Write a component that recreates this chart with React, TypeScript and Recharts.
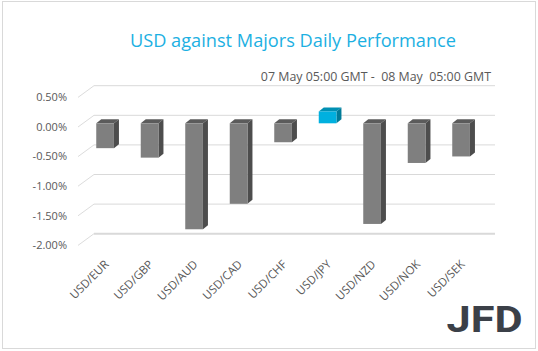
import React from 'react';
import { BarChart, Bar, XAxis, YAxis, CartesianGrid } from 'recharts';

// USD vs majors, % change 07 May 05:00 GMT - 08 May 05:00 GMT
const pairs = ['USD/EUR', 'USD/GBP', 'USD/AUD', 'USD/CAD', 'USD/CHF', 'USD/JPY', 'USD/NZD', 'USD/NOK', 'USD/SEK'];
const changes = [-0.42, -0.58, -1.79, -1.36, -0.32, 0.2, -1.7, -0.67, -0.56];
const yTicks = [0.5, 0, -0.5, -1, -1.5, -2];

const data = pairs.map((pair, i) => ({ pair, change: changes[i] }));

const W = 538;
const H = 351;
const PLOT_TOP = 93.7;
const PLOT_BOTTOM = 241.7;
const PLOT_LEFT = 83.25;
const PLOT_RIGHT = 483.75;
const AXIS_SIZE = 10;

// fake 3d depth
const DX = 5;
const DY = -4;
const FONT = '"Open Sans", sans-serif';

function Bar3D(props: any) {
  const { x, y, width, height, payload } = props;
  const top = Math.min(y, y + height);
  const h = Math.abs(height);
  const up = payload.change >= 0;
  const front = up ? '#00b0df' : '#7f7f7f';
  const roof = up ? '#0090b3' : '#5b5b5b';
  const side = up ? '#007b98' : '#4d4d4d';
  return (
    <g>
      <polygon
        points={`${x},${top} ${x + DX},${top + DY} ${x + width + DX},${top + DY} ${x + width},${top}`}
        fill={roof}
      />
      <polygon
        points={`${x + width},${top} ${x + width + DX},${top + DY} ${x + width + DX},${top + h + DY} ${x + width},${top + h}`}
        fill={side}
      />
      <rect x={x} y={top} width={width} height={h} fill={front} />
    </g>
  );
}

function gridLine(props: any) {
  const { y1 } = props;
  const floor = y1 > PLOT_BOTTOM - 1;
  return (
    <g key={`grid-${y1}`}>
      <line x1={78} y1={y1 + 3.7} x2={94} y2={y1 - 8} stroke="#dcdcdc" strokeWidth={1} />
      <line x1={94} y1={y1 - 8} x2={495} y2={y1 - 8} stroke="#d9d9d9" strokeWidth={floor ? 2 : 1} />
    </g>
  );
}

function YTick(props: any) {
  const { y, payload } = props;
  return (
    <text x={67} y={y + 3.7} dy="0.35em" textAnchor="end" fontFamily={FONT} fontSize={11} fill="#595959">
      {payload.value.toFixed(2)}%
    </text>
  );
}

function XTick(props: any) {
  const { x, payload } = props;
  const ax = x + 4;
  const ay = 265;
  return (
    <text
      x={ax}
      y={ay}
      transform={`rotate(-45 ${ax} ${ay})`}
      textAnchor="end"
      fontFamily={FONT}
      fontSize={11.5}
      fill="#595959"
    >
      {payload.value}
    </text>
  );
}

export default function App() {
  return (
    <div style={{ position: 'absolute', left: 0, top: 0, width: W, height: H, background: '#fff' }}>
      <svg width={W} height={H} style={{ position: 'absolute', left: 0, top: 0 }}>
        <rect x={2.5} y={1.5} width={533} height={347} fill="#fff" stroke="#d9d9d9" />
        <text x={293} y={46.5} textAnchor="middle" fontFamily={FONT} fontSize={18.2} fill="#1cb0e2">
          USD against Majors Daily Performance
        </text>
        <text
          x={491}
          y={80.5}
          textAnchor="end"
          fontFamily={FONT}
          fontSize={12.4}
          fill="#595959"
          style={{ whiteSpace: 'pre' }}
        >
          {'07 May 05:00 GMT -  08 May  05:00 GMT'}
        </text>
        <text
          x={446.5}
          y={332}
          textLength={76}
          lengthAdjust="spacingAndGlyphs"
          fontFamily="Roboto, sans-serif"
          fontWeight={700}
          fontSize={37}
          fill="#3b4048"
        >
          JFD
        </text>
      </svg>
      <div style={{ position: 'absolute', left: 0, top: 0 }}>
        <BarChart
          width={W}
          height={H}
          data={data}
          margin={{
            top: PLOT_TOP,
            bottom: H - PLOT_BOTTOM - AXIS_SIZE,
            left: PLOT_LEFT - AXIS_SIZE,
            right: W - PLOT_RIGHT,
          }}
        >
          <CartesianGrid vertical={false} horizontal={gridLine} />
          <XAxis
            dataKey="pair"
            height={AXIS_SIZE}
            axisLine={false}
            tickLine={false}
            interval={0}
            tick={<XTick />}
          />
          <YAxis
            width={AXIS_SIZE}
            domain={[-2, 0.5]}
            ticks={yTicks}
            axisLine={false}
            tickLine={false}
            tick={<YTick />}
          />
          <Bar dataKey="change" barSize={17.7} shape={<Bar3D />} isAnimationActive={false} />
        </BarChart>
      </div>
    </div>
  );
}
